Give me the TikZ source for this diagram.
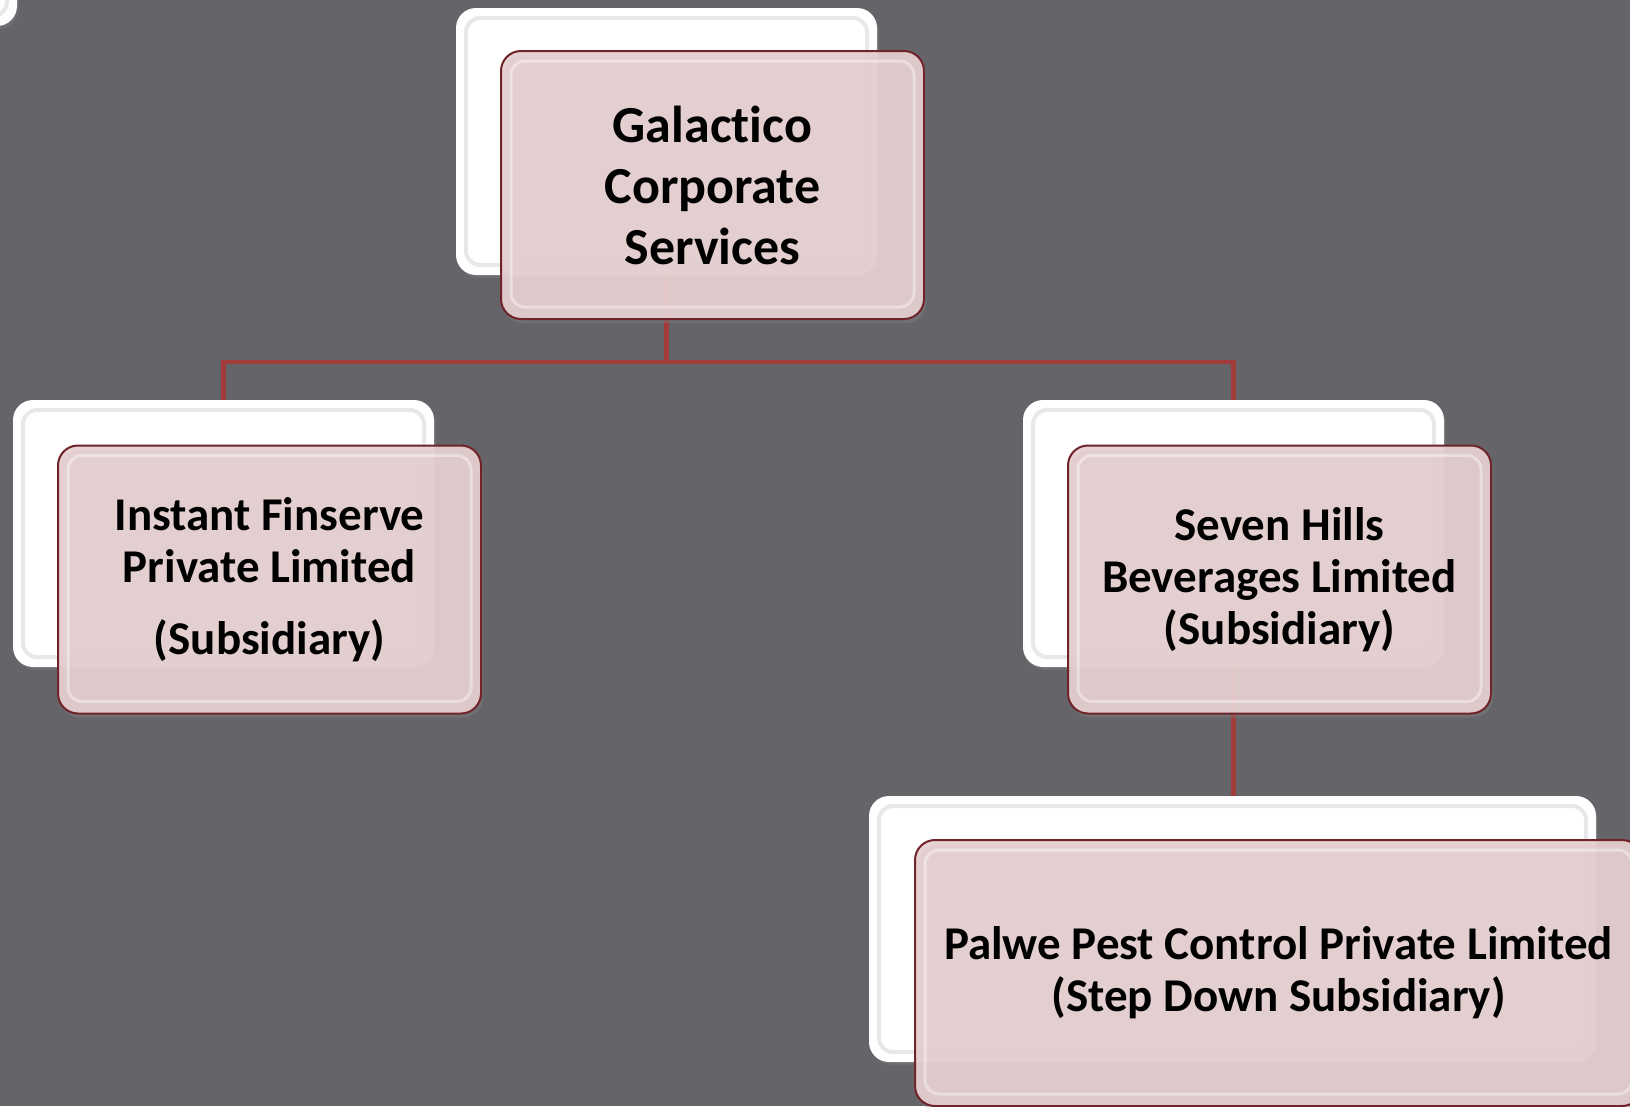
\documentclass[tikz,border=0pt]{standalone}
\usepackage{fontspec}
\setmainfont{Carlito}[Ligatures=NoCommon]
\usetikzlibrary{positioning,shadows,calc}
\definecolor{slate}{RGB}{101,100,105}
\definecolor{blush}{RGB}{231,208,209}
\definecolor{wine}{RGB}{112,36,42}
\definecolor{linkred}{RGB}{163,58,60}
\definecolor{rim}{RGB}{232,232,235}

\begin{document}
\begin{tikzpicture}[
      x=1pt, y=-1pt,
      backcard/.style={rounded corners=20pt, fill=white, inner sep=0pt,
        minimum width=421pt, minimum height=267pt,
        drop shadow={opacity=0.35, shadow xshift=2pt, shadow yshift=-3pt},
        path picture={\draw[rim, line width=4pt, rounded corners=14pt]
          ([shift={(10pt,10pt)}]path picture bounding box.south west) rectangle
          ([shift={(-10pt,-10pt)}]path picture bounding box.north east);}},
      card/.style={rounded corners=20pt, draw=wine, line width=2pt, fill=blush,
        fill opacity=0.93, text opacity=1, inner sep=0pt, align=center,
        minimum width=423pt, minimum height=268pt,
        font=\bfseries\fontsize{47}{52}\selectfont,
        drop shadow={opacity=0.45, shadow xshift=2pt, shadow yshift=-4pt},
        path picture={\draw[white, opacity=0.4, line width=3pt, rounded corners=14pt]
          ([shift={(10pt,12pt)}]path picture bounding box.south west) rectangle
          ([shift={(-10pt,-10pt)}]path picture bounding box.north east);}},
      link/.style={draw=linkred, line width=4.5pt}
    ]
      \fill[slate] (0,0) rectangle (1630,1106);
      \useasboundingbox (0,0) rectangle (1630,1106);
      \clip (0,0) rectangle (1630,1106);

      % back cards
      \node[backcard] (offback) at (-193.5,-107.5) {};
      \node[backcard] (topback) at (666.5,141.5) {};
      \node[backcard] (leftback) at (223.5,533.5) {};
      \node[backcard] (rightback) at (1233.5,533.5) {};
      \node[backcard, minimum width=727pt, minimum height=266pt] (lowback) at (1232.5,929) {};

      % connectors
      \draw[link] (topback.south) -- ++(0,87) coordinate (fork) -| (leftback.north);
      \draw[link] (fork) -| (rightback.north);
      \draw[link] (rightback.south) -- (rightback.south |- lowback.north);

      % front cards
      \node[card, font=\bfseries\fontsize{52}{61}\selectfont] (galactico) at ($(topback)+(46,43.5)$)
        {Galactico\\Corporate\\Services};
      \node[card] (finserve) at ($(leftback)+(46,46)$)
        {Instant Finserve\\Private Limited\\[20pt](Subsidiary)};
      \node[card] (sevenhills) at ($(rightback)+(46,46)$)
        {Seven Hills\\Beverages Limited\\(Subsidiary)};
      \node[card, minimum width=727pt, minimum height=266pt] (palwe) at ($(lowback)+(46,44)$)
        {Palwe Pest Control Private Limited\\(Step Down Subsidiary)};
    \end{tikzpicture}
\end{document}
